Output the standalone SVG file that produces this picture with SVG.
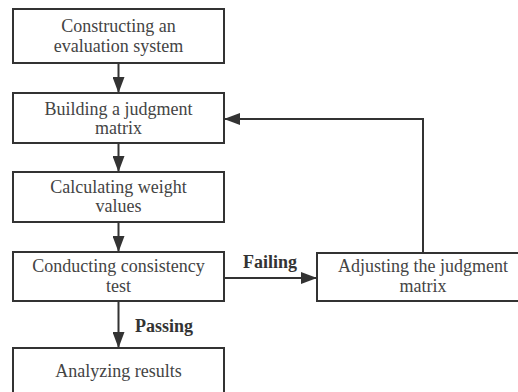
<svg xmlns="http://www.w3.org/2000/svg" width="518" height="392" viewBox="0 0 518 392">
<style>
.box{fill:#fff;stroke:#333;stroke-width:2}
.t{font-family:'Liberation Serif','DejaVu Serif',serif;font-size:18px;fill:#444;text-anchor:middle}
.lb{font-family:'Liberation Serif','DejaVu Serif',serif;font-size:18px;font-weight:bold;fill:#333}
.c{fill:none;stroke:#333;stroke-width:2}
</style>
<defs>
<marker id="ah" markerWidth="16" markerHeight="12" refX="16" refY="6" orient="auto" markerUnits="userSpaceOnUse">
<path d="M0,0 L16,6 L0,12 Z" fill="#333"/>
</marker>
</defs>
<rect width="518" height="392" fill="#fff"/>
<g id="connectors">
<line class="c" x1="118.5" y1="63" x2="118.5" y2="93" marker-end="url(#ah)"/>
<line class="c" x1="118.5" y1="143" x2="118.5" y2="172" marker-end="url(#ah)"/>
<line class="c" x1="118.5" y1="222" x2="118.5" y2="252" marker-end="url(#ah)"/>
<line class="c" x1="118.5" y1="301" x2="118.5" y2="348" marker-end="url(#ah)"/>
<line class="c" x1="224" y1="278" x2="317" y2="278" marker-end="url(#ah)"/>
<polyline class="c" points="423,253 423,119 224,119" marker-end="url(#ah)"/>
<text class="lb" x="243" y="268">Failing</text>
<text class="lb" x="135" y="332">Passing</text>
</g>
<g id="n1"><rect class="box" x="13" y="9" width="211" height="54"/>
<text class="t" x="118.5" y="32">Constructing an</text><text class="t" x="118.5" y="52">evaluation system</text></g>
<g id="n2"><rect class="box" x="13" y="93" width="211" height="50"/>
<text class="t" x="118.5" y="115">Building a judgment</text><text class="t" x="118.5" y="134">matrix</text></g>
<g id="n3"><rect class="box" x="13" y="172" width="211" height="50"/>
<text class="t" x="118.5" y="193">Calculating weight</text><text class="t" x="118.5" y="212">values</text></g>
<g id="n4"><rect class="box" x="13" y="252" width="211" height="49"/>
<text class="t" x="118.5" y="272">Conducting consistency</text><text class="t" x="118.5" y="292">test</text></g>
<g id="n5"><rect class="box" x="13" y="348" width="211" height="60"/>
<text class="t" x="118.5" y="377">Analyzing results</text></g>
<g id="n6"><rect class="box" x="317" y="253" width="212" height="48"/>
<text class="t" x="423" y="272">Adjusting the judgment</text><text class="t" x="423" y="292">matrix</text></g>
</svg>
